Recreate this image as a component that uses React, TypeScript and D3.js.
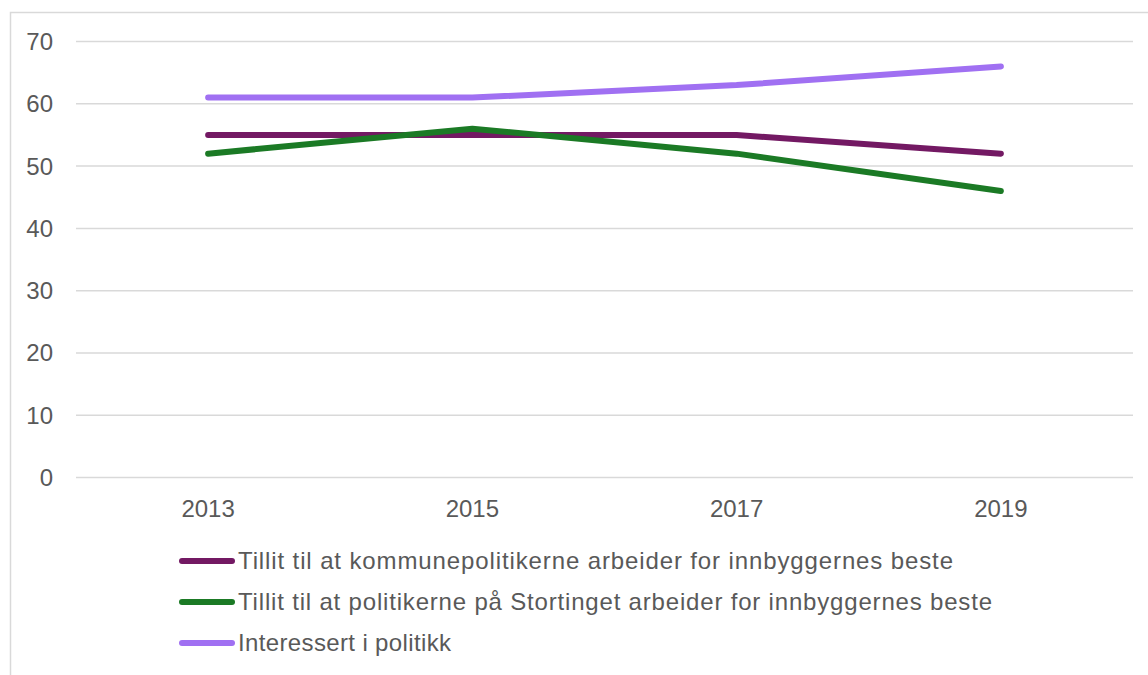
import React, {useEffect, useRef} from "react";
import * as d3 from "d3";

const years: string[] = ["2013", "2015", "2017", "2019"];
const kommune: number[] = [55, 55, 55, 52];
const storting: number[] = [52, 56, 52, 46];
const interesse: number[] = [61, 61, 63, 66];
const yTicks: number[] = [0, 10, 20, 30, 40, 50, 60, 70];

const seriesNames: string[] = [
  "Tillit til at kommunepolitikerne arbeider for innbyggernes beste",
  "Tillit til at politikerne på Stortinget arbeider for innbyggernes beste",
  "Interessert i politikk",
];
const seriesColors: string[] = ["#731963", "#1B7A25", "#A070F2"];
// measured widths of the legend labels in the reference (font differs)
const legendWidths: number[] = [715, 754, 213];

const FONT = "'Liberation Sans', Arial, sans-serif";
const TEXT_COLOR = "#595959";

export default function App(): React.ReactElement {
  const svgRef = useRef<SVGSVGElement>(null);

  useEffect(() => {
    if (svgRef.current === null) return;
    const svg = d3.select(svgRef.current);
    svg.selectAll("*").remove();

    const margin = {top: 41.5, left: 76, right: 1133, bottom: 477.6};

    // outer chart border (cropped by window)
    svg.append("rect")
      .attr("x", 10.5).attr("y", 12.5)
      .attr("width", 1200).attr("height", 700)
      .attr("fill", "#fff")
      .attr("stroke", "#d9d9d9").attr("stroke-width", 1.5);

    const x = d3.scaleBand().domain(years).range([margin.left, margin.right]);
    const y = d3.scaleLinear().domain([0, 70]).range([margin.bottom, margin.top]);

    const g = svg.append("g");

    // gridlines
    g.selectAll(".grid")
      .data(yTicks)
      .join("line")
      .attr("class", "grid")
      .attr("x1", margin.left).attr("x2", margin.right)
      .attr("y1", (d) => y(d)).attr("y2", (d) => y(d))
      .attr("stroke", "#d9d9d9").attr("stroke-width", 1.5);

    // y labels
    g.selectAll(".ylab")
      .data(yTicks)
      .join("text")
      .attr("class", "ylab")
      .attr("x", 53)
      .attr("y", (d) => y(d))
      .attr("dy", "0.35em")
      .attr("text-anchor", "end")
      .attr("font-family", FONT)
      .attr("font-size", 24)
      .attr("fill", TEXT_COLOR)
      .text((d) => String(d));

    // x labels
    g.selectAll(".xlab")
      .data(years)
      .join("text")
      .attr("class", "xlab")
      .attr("x", (d) => (x(d) as number) + x.bandwidth() / 2)
      .attr("y", 517)
      .attr("text-anchor", "middle")
      .attr("font-family", FONT)
      .attr("font-size", 24)
      .attr("fill", TEXT_COLOR)
      .text((d) => d);

    const allSeries = [kommune, storting, interesse];
    const line = d3.line<number>()
      .x((_, i) => (x(years[i]) as number) + x.bandwidth() / 2)
      .y((d) => y(d));

    allSeries.forEach((s, i) => {
      g.append("path")
        .datum(s)
        .attr("d", line)
        .attr("fill", "none")
        .attr("stroke", seriesColors[i])
        .attr("stroke-width", 6)
        .attr("stroke-linecap", "round")
        .attr("stroke-linejoin", "round");
    });

    // legend
    const legendY = [561, 602, 643];
    const legend = g.selectAll(".legend")
      .data(seriesNames)
      .join("g")
      .attr("class", "legend")
      .attr("transform", (_, i) => `translate(0, ${legendY[i]})`);
    legend.append("line")
      .attr("x1", 182).attr("x2", 232)
      .attr("y1", 0).attr("y2", 0)
      .attr("stroke", (_, i) => seriesColors[i])
      .attr("stroke-width", 6)
      .attr("stroke-linecap", "round");
    legend.append("text")
      .attr("x", 238)
      .attr("y", 0)
      .attr("dy", "0.35em")
      .attr("font-family", FONT)
      .attr("font-size", 24)
      .attr("fill", TEXT_COLOR)
      .attr("textLength", (_, i) => legendWidths[i])
      .attr("lengthAdjust", "spacing")
      .text((d) => d);
  }, []);

  return (
    <svg ref={svgRef} width={1148} height={675}
      style={{position: "absolute", left: 0, top: 0, background: "#fff"}}></svg>
  );
}
